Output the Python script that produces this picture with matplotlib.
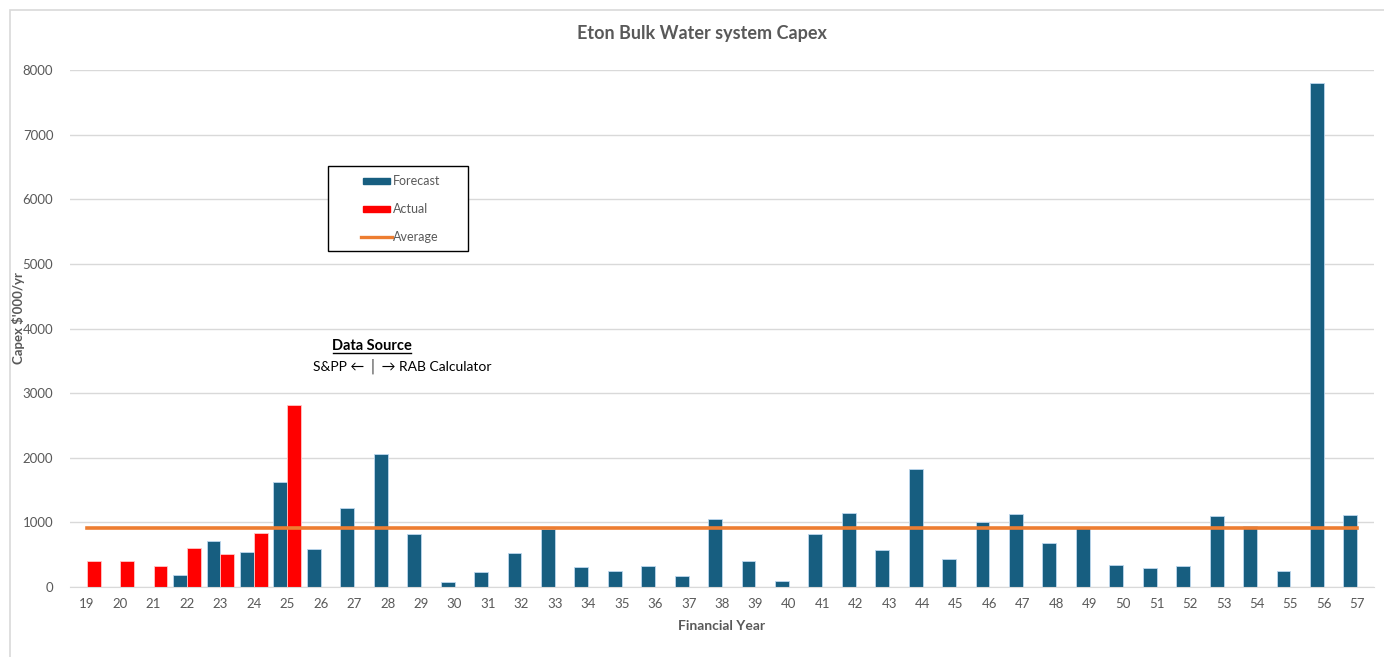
import matplotlib.pyplot as plt
import numpy as np
from matplotlib.lines import Line2D
from matplotlib.patches import Rectangle

years = [str(y) for y in range(19, 58)]
forecast = [0, 0, 0, 191, 716, 536, 1624, 582, 1227, 2052, 820, 77, 237, 521,
            892, 304, 253, 320, 170, 1046, 402, 93, 814, 1144, 567, 1820, 433,
            1010, 1129, 680, 907, 340, 289, 320, 1098, 948, 253, 7800, 1113]
actual = [402, 402, 325, 603, 505, 835, 2814] + [0] * 32
average = [907] * len(years)

BLUE = "#175E80"
RED = "#FF0000"
ORANGE = "#ED7D31"
GREY = "#595959"

plt.rcParams["font.family"] = ["Lato", "DejaVu Sans"]

W, H = 1384, 657


def fx(px):
    return px / W


def fy(py):
    return 1 - py / H


fig = plt.figure(figsize=(W / 100, H / 100), dpi=100)
fig.patches.append(Rectangle((fx(10), -0.1), 1.2, fy(10) + 0.1,
                             transform=fig.transFigure, fill=False,
                             edgecolor="#D9D9D9", linewidth=1.2))
ax = fig.add_axes([fx(70), fy(587), fx(1304), 517 / H])

x = np.arange(len(years))
w = 0.415
ax.bar(x - w / 2, forecast, w, color=BLUE, edgecolor="#BDD7EE", linewidth=0.6,
       zorder=2)
ax.bar(x + w / 2, actual, w, color=RED, edgecolor="#FFC7C7", linewidth=0.6,
       zorder=2)
ax.plot(x, average, color=ORANGE, linewidth=2.6, zorder=3)

ax.set_xlim(-0.5, len(years) - 0.5)
ax.set_ylim(0, 8000)
ax.set_yticks(np.arange(0, 8001, 1000))
ax.set_xticks(x)
ax.set_xticklabels(years)
ax.grid(axis="y", color="#D9D9D9", linewidth=1, zorder=0)
ax.set_axisbelow(True)
for s in ["top", "right", "left"]:
    ax.spines[s].set_visible(False)
ax.spines["bottom"].set_color("#D9D9D9")
ax.tick_params(length=0, labelsize=9.5, colors=GREY, pad=8)
ax.tick_params(axis="y", pad=12)

fig.text(fx(702), fy(34), "Eton Bulk Water system Capex", ha="center",
         va="center", fontsize=13, fontweight="bold", color=GREY)
ax.set_xlabel("Financial Year", fontsize=10, fontweight="bold", color=GREY)
ax.xaxis.set_label_coords((722 - 70) / 1304, -(626 - 587) / 517)
ax.set_ylabel("Capex $'000/yr", fontsize=9.5, fontweight="bold", color=GREY)
ax.yaxis.set_label_coords(-(70 - 19) / 1304, (587 - 318) / 517)
ax.xaxis.label.set_va("center")
ax.yaxis.label.set_va("center")

# legend box laid out like the original
fig.patches.append(Rectangle((fx(328), fy(251)), fx(140), 85 / H,
                             transform=fig.transFigure, fill=True,
                             facecolor="white", edgecolor="black",
                             linewidth=1.0, zorder=5))
for name, col, yy in [("Forecast", BLUE, 181), ("Actual", RED, 209)]:
    fig.patches.append(Rectangle((fx(363), fy(yy + 3)), fx(27), 6 / H,
                                 transform=fig.transFigure, color=col,
                                 zorder=6))
    fig.text(fx(393), fy(yy), name, ha="left", va="center", fontsize=9,
             color=GREY, zorder=6)
fig.add_artist(Line2D([fx(361), fx(392)], [fy(237)] * 2, color=ORANGE,
                      linewidth=2.4, zorder=6))
fig.text(fx(393), fy(237), "Average", ha="left", va="center", fontsize=9,
         color=GREY, zorder=6)

fig.text(fx(372), fy(346), "Data Source", ha="center", va="center",
         fontsize=10.5, fontweight="bold", color="black")
fig.add_artist(Line2D([fx(333), fx(411)], [fy(353)] * 2, color="black",
                      linewidth=1.0))
fig.text(fx(402), fy(366), "S&PP \u2190 \u2502 \u2192 RAB Calculator",
         ha="center", va="center", fontsize=10, color="black")

fig.savefig("out.png", dpi=100)
